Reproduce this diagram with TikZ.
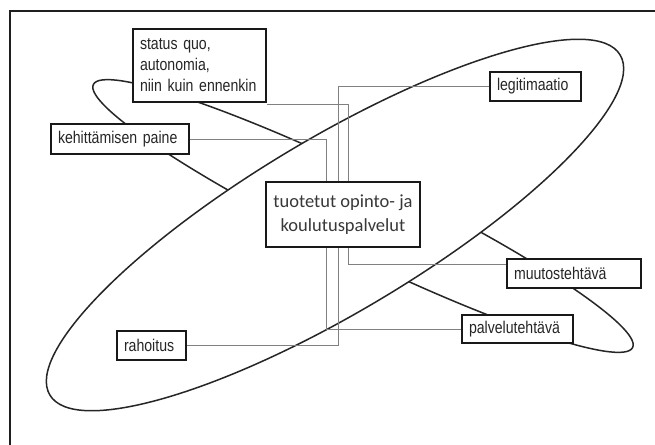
\documentclass[tikz,border=0pt]{standalone}
\usepackage{fontspec}
\setmainfont{Liberation Sans}
\newfontfamily\narrowsans[FakeStretch=0.83]{Liberation Sans}
\newfontfamily\calibri{Carlito}
\begin{document}
\begin{tikzpicture}[x=1pt,y=-1pt,
  frameline/.style={draw=black!88,line width=2pt},
  loop/.style={draw=black!85,line width=1.5pt},
  conn/.style={draw=black!50,line width=0.8pt},
  box/.style={draw=black!90,line width=2pt,fill=white,anchor=north west,
    inner xsep=7pt,inner ysep=0pt,align=left,text=black!85,
    font=\narrowsans\fontsize{17}{21}\selectfont},
  centerbox/.style={draw=black!90,line width=2pt,fill=white,anchor=north west,
    inner sep=0pt,align=center,text=black!78,
    font=\calibri\fontsize{18.5}{24}\selectfont}]
\clip (0,0) rectangle (655,444);
\fill[white] (0,0) rectangle (655,444);

% frame
\draw[frameline] (10,450) |- (660,11);

% the two crossing ellipses
\draw[loop] [rotate around={-26:(363,216)}] (363,216) ellipse [x radius=300pt, y radius=40pt];
\draw[loop,fill=white] [rotate around={30.8:(335,225)}] (335,225) ellipse [x radius=332pt, y radius=87pt];

% boxes
\node[centerbox,minimum width=154pt,minimum height=65pt] (cb) at (265,181) {tuotetut opinto- ja\\koulutuspalvelut};
\node[box,minimum width=133pt,minimum height=73pt,text width=119pt] (sq) at (132,28) {status quo,\\autonomia,\\niin kuin ennenkin};
\node[box,minimum width=138pt,minimum height=30pt,text width=124pt] (kp) at (50,123) {kehittämisen paine};
\node[box,minimum width=91pt,minimum height=29pt,text width=77pt] (lg) at (489,71) {legitimaatio};
\node[box,minimum width=134pt,minimum height=29pt,text width=120pt] (mt) at (506,258) {muutostehtävä};
\node[box,minimum width=111pt,minimum height=28pt,text width=97pt] (pt) at (461,314) {palvelutehtävä};
\node[box,minimum width=69pt,minimum height=29pt,text width=55pt] (ra) at (116,330) {rahoitus};

% connectors to the centre box
\draw[conn] ([yshift=-1.5pt]sq.south east) -| ([xshift=5pt]cb.north);
\draw[conn] (kp.east) -| ([xshift=-17pt]cb.north);
\draw[conn] (lg.west) -| ([xshift=-5pt]cb.north);
\draw[conn] (ra.east) -| ([xshift=-5pt]cb.south);
\draw[conn] (pt.west) -| ([xshift=-17pt]cb.south);
\draw[conn] ([yshift=9.5pt]mt.west) -| ([xshift=5pt]cb.south);
\end{tikzpicture}
\end{document}
